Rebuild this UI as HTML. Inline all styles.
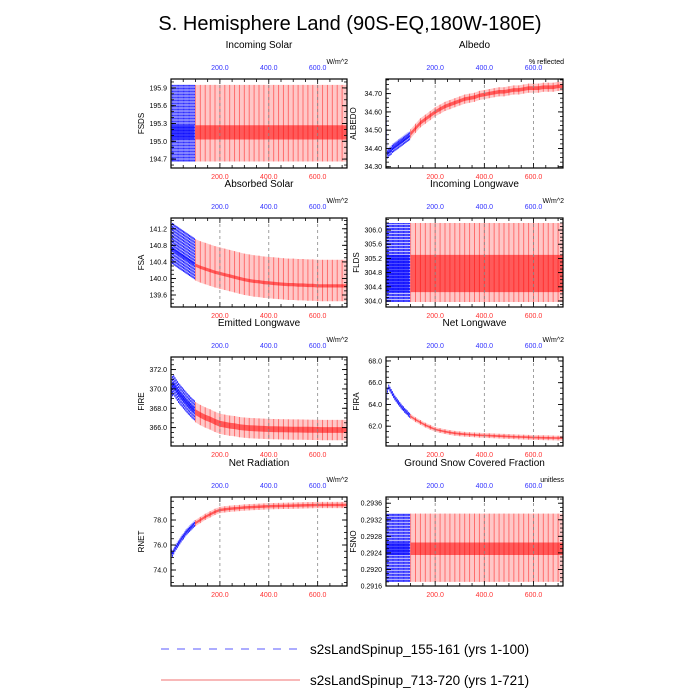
<!DOCTYPE html>
<html><head><meta charset="utf-8">
<style>
html,body{margin:0;padding:0;background:#fff;}
svg{display:block;font-family:"Liberation Sans",sans-serif;}
</style></head>
<body>
<svg id="chart" width="700" height="700" viewBox="0 0 700 700" xmlns="http://www.w3.org/2000/svg">
<rect x="0" y="0" width="700" height="700" fill="#fff"/>
<text x="350" y="30" font-size="20" text-anchor="middle" fill="#000">S. Hemisphere Land (90S-EQ,180W-180E)</text>
<g id="panels"></g>
<g>
<line x1="161" y1="649" x2="297" y2="649" stroke="#5a5aff" stroke-width="1" stroke-dasharray="8,8"/>
<text x="310" y="654" font-size="13.5" fill="#000">s2sLandSpinup_155-161 (yrs 1-100)</text>
<line x1="161" y1="680" x2="300" y2="680" stroke="#f07070" stroke-width="1"/>
<text x="310" y="685" font-size="13.5" fill="#000">s2sLandSpinup_713-720 (yrs 1-721)</text>
</g>
</svg>
<script>
const blueYears = [1,6,11,16,21,26,31,36,41,46,51,56,61,66,71,76,81,86,91,96];
const redYears = [100,120,140,160,180,200,220,240,260,280,300,320,340,360,380,400,420,440,460,480,500,520,540,560,580,600,620,640,660,680,700,720];
const xTicks = [200,400,600];

const fsdsBlue = [195.15,195.15,195.15,195.15,195.15,195.15,195.15,195.15,195.15,195.15,195.15,195.15,195.15,195.15,195.15,195.15,195.15,195.15,195.15,195.15];
const fsdsRed = [195.15,195.15,195.15,195.15,195.15,195.15,195.15,195.15,195.15,195.15,195.15,195.15,195.15,195.15,195.15,195.15,195.15,195.15,195.15,195.15,195.15,195.15,195.15,195.15,195.15,195.15,195.15,195.15,195.15,195.15,195.15,195.15];
const albedoBlue = [34.55,34.37,34.38,34.385,34.39,34.40,34.405,34.41,34.415,34.42,34.425,34.43,34.435,34.44,34.445,34.45,34.455,34.46,34.465,34.47];
const albedoRed = [34.48,34.51,34.54,34.56,34.58,34.60,34.615,34.63,34.64,34.65,34.66,34.67,34.675,34.68,34.69,34.695,34.70,34.705,34.71,34.71,34.715,34.72,34.72,34.725,34.73,34.73,34.73,34.735,34.735,34.735,34.74,34.74];
const fsaBlue = [140.8,140.85,140.83,140.8,140.78,140.76,140.74,140.72,140.7,140.68,140.66,140.64,140.62,140.6,140.58,140.56,140.54,140.52,140.5,140.48];
const fsaRed = [140.45,140.4,140.36,140.32,140.28,140.25,140.22,140.19,140.16,140.13,140.1,140.08,140.06,140.05,140.03,140.02,140.01,140.0,139.99,139.98,139.98,139.97,139.97,139.96,139.96,139.95,139.95,139.95,139.95,139.95,139.95,139.95];
const fldsBlue = [305.08,305.08,305.08,305.08,305.08,305.08,305.08,305.08,305.08,305.08,305.08,305.08,305.08,305.08,305.08,305.08,305.08,305.08,305.08,305.08];
const fldsRed = [305.08,305.08,305.08,305.08,305.08,305.08,305.08,305.08,305.08,305.08,305.08,305.08,305.08,305.08,305.08,305.08,305.08,305.08,305.08,305.08,305.08,305.08,305.08,305.08,305.08,305.08,305.08,305.08,305.08,305.08,305.08,305.08];
const fireBlue = [369.5,370.3,370.4,370.2,370.0,369.8,369.6,369.45,369.3,369.15,369.0,368.85,368.7,368.55,368.4,368.3,368.15,368.0,367.9,367.8];
const fireRed = [367.6,367.3,367.05,366.85,366.6,366.4,366.3,366.2,366.15,366.05,366.0,365.95,365.93,365.9,365.88,365.85,365.84,365.83,365.82,365.81,365.8,365.8,365.79,365.78,365.77,365.76,365.75,365.75,365.75,365.75,365.75,365.75];
const firaBlue = [64.2,65.3,65.6,65.4,65.2,65.0,64.8,64.6,64.45,64.3,64.15,64.0,63.85,63.7,63.6,63.45,63.35,63.25,63.1,63.0];
const firaRed = [62.9,62.6,62.35,62.1,61.9,61.7,61.6,61.5,61.42,61.35,61.3,61.26,61.23,61.2,61.17,61.15,61.13,61.11,61.09,61.07,61.05,61.03,61.01,61.0,60.98,60.96,60.95,60.94,60.93,60.92,60.91,60.9];
const rnetBlue = [75.5,75.3,75.5,75.7,75.85,76.0,76.15,76.3,76.45,76.6,76.7,76.85,77.0,77.1,77.2,77.3,77.4,77.5,77.6,77.7];
const rnetRed = [77.75,78.0,78.25,78.45,78.65,78.8,78.85,78.9,78.93,78.96,79.0,79.02,79.04,79.06,79.08,79.1,79.11,79.12,79.13,79.14,79.15,79.16,79.17,79.18,79.19,79.2,79.2,79.2,79.2,79.2,79.2,79.2];
const fsnoBlue = [0.29255,0.29255,0.29255,0.29255,0.29255,0.29255,0.29255,0.29255,0.29255,0.29255,0.29255,0.29255,0.29255,0.29255,0.29255,0.29255,0.29255,0.29255,0.29255,0.29255];
const fsnoRed = [0.29255,0.29255,0.29255,0.29255,0.29255,0.29255,0.29255,0.29255,0.29255,0.29255,0.29255,0.29255,0.29255,0.29255,0.29255,0.29255,0.29255,0.29255,0.29255,0.29255,0.29255,0.29255,0.29255,0.29255,0.29255,0.29255,0.29255,0.29255,0.29255,0.29255,0.29255,0.29255];

const NS = "http://www.w3.org/2000/svg";
const root = document.getElementById('panels');
function mk(tag, attrs, parent){const e=document.createElementNS(NS,tag);for(const k in attrs)e.setAttribute(k,attrs[k]);parent.appendChild(e);return e;}

const panels = [
 {key:'incoming-solar',title:'Incoming Solar',yl:'FSDS',units:'W/m^2',col:0,row:0,ymin:194.55,ymax:196.05,ticks:[194.7,195.0,195.3,195.6,195.9],dec:1,minor:3,blue:fsdsBlue,red:fsdsRed,lo:-0.49,hi:0.80,clo:-0.12,chi:0.12},
 {key:'albedo',title:'Albedo',yl:'ALBEDO',units:'% reflected',col:1,row:0,ymin:34.293,ymax:34.78,ticks:[34.30,34.40,34.50,34.60,34.70],dec:2,minor:4,blue:albedoBlue,red:albedoRed,lo:-0.025,hi:0.025,clo:-0.01,chi:0.01},
 {key:'absorbed-solar',title:'Absorbed Solar',yl:'FSA',units:'W/m^2',col:0,row:1,ymin:139.31,ymax:141.46,ticks:[139.6,140.0,140.4,140.8,141.2],dec:1,minor:4,blue:fsaBlue,red:fsaRed,lo:-0.5,hi:0.5,clo:-0.17,chi:-0.09},
 {key:'incoming-longwave',title:'Incoming Longwave',yl:'FLDS',units:'W/m^2',col:1,row:1,ymin:303.83,ymax:306.34,ticks:[304.0,304.4,304.8,305.2,305.6,306.0],dec:1,minor:4,blue:fldsBlue,red:fldsRed,lo:-1.11,hi:1.12,clo:-0.83,chi:0.22},
 {key:'emitted-longwave',title:'Emitted Longwave',yl:'FIRE',units:'W/m^2',col:0,row:2,ymin:364.1,ymax:373.3,ticks:[366.0,368.0,370.0,372.0],dec:1,minor:4,blue:fireBlue,red:fireRed,lo:-1.05,hi:1.05,clo:-0.3,chi:0.3},
 {key:'net-longwave',title:'Net Longwave',yl:'FIRA',units:'W/m^2',col:1,row:2,ymin:60.18,ymax:68.36,ticks:[62.0,64.0,66.0,68.0],dec:1,minor:4,blue:firaBlue,red:firaRed,lo:-0.22,hi:0.22,clo:-0.08,chi:0.08},
 {key:'net-radiation',title:'Net Radiation',yl:'RNET',units:'W/m^2',col:0,row:3,ymin:72.72,ymax:79.84,ticks:[74.0,76.0,78.0],dec:1,minor:4,blue:rnetBlue,red:rnetRed,lo:-0.25,hi:0.25,clo:-0.1,chi:0.1},
 {key:'ground-snow',title:'Ground Snow Covered Fraction',yl:'FSNO',units:'unitless',col:1,row:3,ymin:0.2916,ymax:0.29375,ticks:[0.2916,0.2920,0.2924,0.2928,0.2932,0.2936],dec:4,minor:4,blue:fsnoBlue,red:fsnoRed,lo:-0.00085,hi:0.0008,clo:-0.0002,chi:0.0001}
];
const colX=[[171,347],[386,563]];
const rowTop=[79,218,357,497];
const PH=89;

function band(years, vals, a, b, xs, ys){
  let top=years.map((y,i)=>xs(y).toFixed(1)+','+ys(vals[i]+b).toFixed(1));
  let bot=years.map((y,i)=>xs(y).toFixed(1)+','+ys(vals[i]+a).toFixed(1)).reverse();
  return top.concat(bot).join(' ');
}

panels.forEach(p=>{
  const x0=colX[p.col][0],x1=colX[p.col][1],y0=rowTop[p.row],y1=y0+PH;
  const xs=v=>x0+(v/720)*(x1-x0);
  const ys=v=>y1-(v-p.ymin)/(p.ymax-p.ymin)*PH;
  const g=mk('g',{},root);
  
  
  const cx=(x0+x1)/2;
  const t=mk('text',{x:cx,y:y0-31,'font-size':10,'text-anchor':'middle',fill:'#000'},g);t.textContent=p.title;
  
  
  const u=mk('text',{x:x1+1,y:y0-15,'font-size':7,'text-anchor':'end',fill:'#000'},g);u.textContent=p.units;
  
  
  const cid='clip'+p.key;
  const cp=mk('clipPath',{id:cid},g);mk('rect',{x:x0,y:y0,width:x1-x0,height:PH},cp);
  const dg=mk('g',{'clip-path':'url(#'+cid+')'},g);
  // red range area
  const ra=mk('polygon',{points:band(redYears,p.red,p.lo,p.hi,xs,ys),fill:'#ff0000','fill-opacity':0.22,stroke:'none'},dg);
  
  
  const rc=mk('polygon',{points:band(redYears,p.red,p.clo,p.chi,xs,ys),fill:'#ff0000','fill-opacity':0.55,stroke:'none'},dg);
  
  
  p.red.forEach((m,i)=>{
    const x=xs(redYears[i]);
    const b=mk('line',{x1:x,x2:x,y1:ys(m+p.lo),y2:ys(m+p.hi),stroke:'#ff0000','stroke-opacity':0.45,'stroke-width':1},dg);
    
    
  });
  // blue
  const ba=mk('polygon',{points:band(blueYears,p.blue,p.lo,p.hi,xs,ys),fill:'#0000ff','fill-opacity':0.25,stroke:'none'},dg);
  
  
  const bc=mk('polygon',{points:band(blueYears,p.blue,p.clo,p.chi,xs,ys),fill:'#0000ff','fill-opacity':0.6,stroke:'none'},dg);
  
  
  p.blue.forEach((m,i)=>{
    const x=xs(blueYears[i]);
    const b=mk('line',{x1:x,x2:x,y1:ys(m+p.lo),y2:ys(m+p.hi),stroke:'#0000ff','stroke-opacity':0.8,'stroke-width':1,'stroke-dasharray':'2,1'},dg);
    
    
  });
  // grid + x labels
  xTicks.forEach(v=>{
    const l=mk('line',{x1:xs(v),x2:xs(v),y1:y0,y2:y1,stroke:'#888','stroke-width':0.8,'stroke-dasharray':'3,3'},g);
    
    
    const tb=mk('text',{x:xs(v),y:y0-9,'font-size':7,'text-anchor':'middle',fill:'#3333ff'},g);tb.textContent=v.toFixed(1);
    
    
    const tr=mk('text',{x:xs(v),y:y1+11,'font-size':7,'text-anchor':'middle',fill:'#ff3333'},g);tr.textContent=v.toFixed(1);
    
    
  });
  for(let v=50;v<720;v+=50){
    const major=v%200===0;const len=major?5:3;
    mk('line',{x1:xs(v),x2:xs(v),y1:y0,y2:y0+len,stroke:'#000','stroke-width':0.8},g);
    mk('line',{x1:xs(v),x2:xs(v),y1:y1,y2:y1-len,stroke:'#000','stroke-width':0.8},g);
  }
  const step=p.ticks[1]-p.ticks[0];
  const ms=step/p.minor;
  for(let v=p.ticks[0]-step;v<=p.ymax+1e-9;v+=ms){
    if(v<p.ymin)continue;
    mk('line',{x1:x0,x2:x0+3,y1:ys(v),y2:ys(v),stroke:'#000','stroke-width':0.8},g);
    mk('line',{x1:x1,x2:x1-3,y1:ys(v),y2:ys(v),stroke:'#000','stroke-width':0.8},g);
  }
  p.ticks.forEach(v=>{
    mk('line',{x1:x0,x2:x0+5,y1:ys(v),y2:ys(v),stroke:'#000','stroke-width':0.9},g);
    mk('line',{x1:x1,x2:x1-5,y1:ys(v),y2:ys(v),stroke:'#000','stroke-width':0.9},g);
    const tl=mk('text',{x:x0-4,y:ys(v)+2.5,'font-size':7,'text-anchor':'end',fill:'#000'},g);tl.textContent=v.toFixed(p.dec);
    
    
  });
  const yl=mk('text',{x:0,y:0,'font-size':8,'text-anchor':'middle',fill:'#000',transform:'translate('+(x0-(p.dec>=2?30:27))+','+(y0+PH/2)+') rotate(-90)'},g);yl.textContent=p.yl;
  
  
  const fr=mk('rect',{x:x0,y:y0,width:x1-x0,height:PH,fill:'none',stroke:'#000','stroke-width':1.2},g);
  
  
});
</script>
</body></html>
